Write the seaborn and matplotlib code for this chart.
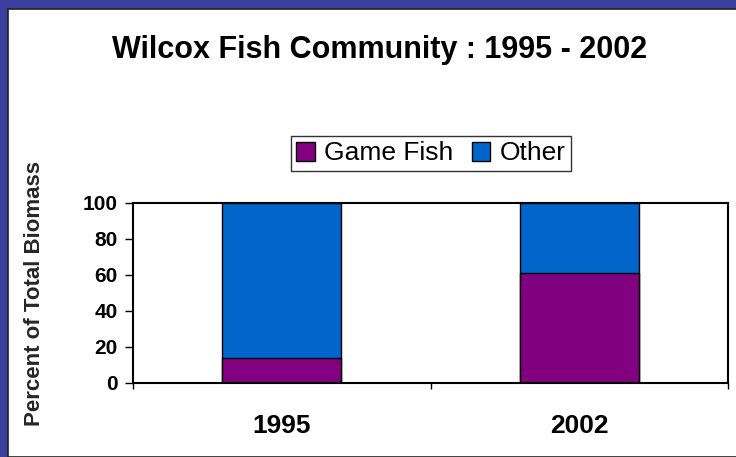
import matplotlib.pyplot as plt
import seaborn as sns
import pandas as pd
from matplotlib.patches import Rectangle

sns.set_style('white')
plt.rcParams['font.family'] = ['Liberation Sans', 'DejaVu Sans']
plt.rcParams['text.color'] = 'black'
plt.rcParams['xtick.color'] = 'black'
plt.rcParams['ytick.color'] = 'black'

# data
years = ['1995', '2002']
game_fish = [14, 61]
other = [86, 39]

df = pd.DataFrame({'year': years, 'game': game_fish, 'other': other})
df['total'] = df['game'] + df['other']

fig = plt.figure(figsize=(7.36, 4.57), dpi=100)
fig.patch.set_facecolor('#3b3f9f')
# white slide panel
fig.patches.append(Rectangle((8 / 736, 0), 1, 1 - 9 / 457, transform=fig.transFigure,
                             facecolor='white', edgecolor='#202020', linewidth=1.2, zorder=-10))

ax = fig.add_axes([133 / 736, 1 - 383 / 457, 595 / 736, 180 / 457])

sns.barplot(data=df, x='year', y='total', color='#0066CC', width=0.4,
            edgecolor='black', linewidth=1, saturation=1, ax=ax, label='Other')
sns.barplot(data=df, x='year', y='game', color='#800080', width=0.4,
            edgecolor='black', linewidth=1, saturation=1, ax=ax, label='Game Fish')
h, l = ax.get_legend_handles_labels()
if ax.get_legend() is not None:
    ax.get_legend().remove()

ax.set_ylim(0, 100)
ax.set_yticks(range(0, 101, 20))
ax.set_xlim(-0.5, 1.5)
ax.set_xticks([-0.5, 0.5, 1.5], minor=True)
ax.set_xlabel('')
ax.set_ylabel('Percent of Total Biomass', fontsize=16, fontweight='bold')
ax.yaxis.set_label_coords(-0.148, 0.5)
for s in ax.spines.values():
    s.set_visible(True)
    s.set_color('black')
    s.set_linewidth(1.5)
ax.tick_params(axis='y', left=True, direction='out', length=6, width=1, labelsize=15, pad=5)
ax.tick_params(axis='x', which='major', bottom=False, labelsize=19, pad=19)
ax.tick_params(axis='x', which='minor', bottom=True, direction='out', length=4, width=1)
for lab in ax.get_yticklabels() + ax.get_xticklabels():
    lab.set_fontweight('bold')

order = [l.index('Game Fish'), l.index('Other')]
leg = fig.legend([h[i] for i in order], [l[i] for i in order], loc='center',
                 bbox_to_anchor=(431 / 736, 1 - 153.5 / 457), ncol=2, fontsize=19,
                 frameon=True, fancybox=False, handlelength=0.7, handleheight=0.7,
                 handletextpad=0.35, columnspacing=0.7, borderpad=0.2, borderaxespad=0)
leg.get_frame().set_edgecolor('black')
leg.get_frame().set_linewidth(1)

fig.text(380 / 736, 1 - 50 / 457, 'Wilcox Fish Community : 1995 - 2002',
         ha='center', va='center', fontsize=22, fontweight='bold')

fig.savefig('out.png', dpi=100, facecolor=fig.get_facecolor())
